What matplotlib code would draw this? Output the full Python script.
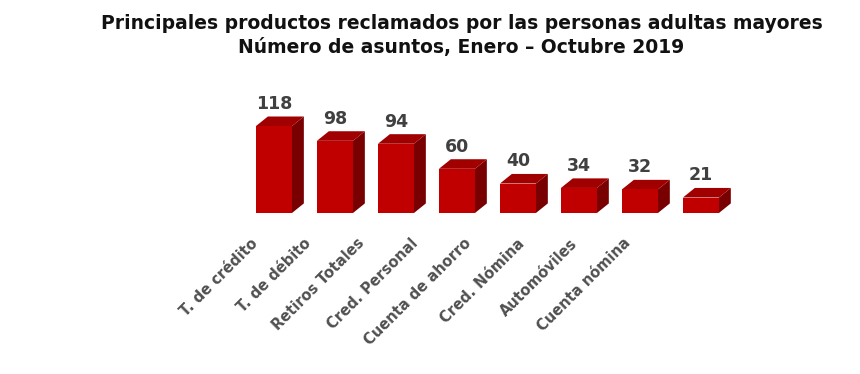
import numpy as np
import matplotlib.pyplot as plt
from matplotlib.patches import Polygon

# datos
productos = ['T. de crédito', 'T. de débito', 'Retiros Totales', 'Cred. Personal',
             'Cuenta de ahorro', 'Cred. Nómina', 'Automóviles', 'Cuenta nómina']
asuntos = [118, 98, 94, 60, 40, 34, 32, 21]

titulo = ('Principales productos reclamados por las personas adultas mayores\n'
          'Número de asuntos, Enero – Octubre 2019')

c_front = '#C00000'
c_top = '#A00000'
c_side = '#780000'
c_txt = '#404040'

plt.rcParams['font.family'] = ['DejaVu Sans']

fig = plt.figure(figsize=(8.6, 3.74), dpi=100)

# ejes de las barras
ax = fig.add_axes([0.2831, 0.4305, 0.5674, 0.3289])
ax.set_xlim(-0.5, 7.5)
ax.set_ylim(0, 167)
ax.axis('off')

x = np.arange(len(asuntos))
w = 0.59
dx, dy = 0.195, 13.0  # profundidad del efecto 3d

bars = ax.bar(x, asuntos, width=w, color=c_front, zorder=3)
for b in bars:
    x0 = b.get_x()
    x1 = x0 + b.get_width()
    h = b.get_height()
    side = Polygon([(x1, 0), (x1 + dx, dy), (x1 + dx, h + dy), (x1, h)],
                   closed=True, facecolor=c_side, edgecolor='none', zorder=2)
    top = Polygon([(x0, h), (x0 + dx, h + dy), (x1 + dx, h + dy), (x1, h)],
                  closed=True, facecolor=c_top, edgecolor='none', zorder=2)
    ax.add_patch(side)
    ax.add_patch(top)
    ax.annotate(str(h), xy=(b.get_x() + b.get_width() / 2, h + dy),
                xytext=(0, 2.5), textcoords='offset points',
                ha='center', va='bottom', fontsize=12.5, fontweight='bold',
                color=c_txt, annotation_clip=False)

# ejes para las etiquetas (distinto espaciado)
ax2 = fig.add_axes([0.2661, 0.3556, 0.4958, 0.001])
ax2.set_xlim(-0.5, 7.5)
ax2.set_xticks(x)
ax2.set_xticklabels(productos, rotation=45, ha='right', va='center',
                    rotation_mode='anchor', fontsize=10.5, fontweight='bold',
                    color='#505050')
ax2.tick_params(axis='x', length=0, pad=0)
ax2.set_yticks([])
for s in ax2.spines.values():
    s.set_visible(False)
ax2.patch.set_visible(False)

fig.text(0.5366, 0.905, titulo, ha='center', va='center', fontsize=13.5,
         fontweight='bold', color='#111111', linespacing=1.3)

plt.savefig('out.png', dpi=100)
